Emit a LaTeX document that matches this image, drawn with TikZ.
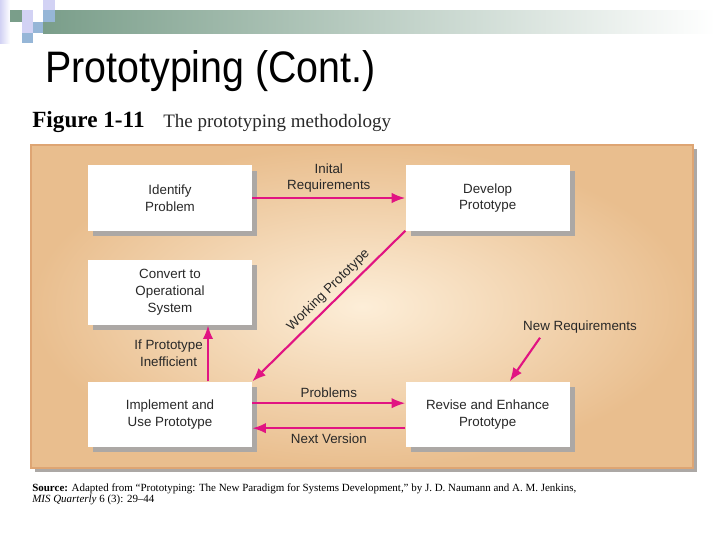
\documentclass[tikz,border=0pt]{standalone}
\usepackage{graphicx}
\usepackage{fontspec}
\setmainfont{Liberation Serif}
\setsansfont{Liberation Sans}
\usetikzlibrary{arrows.meta,positioning,calc,shadows}

\definecolor{flowpink}{RGB}{225,20,130}
\definecolor{panelout}{RGB}{233,190,142}
\definecolor{panelin}{RGB}{253,238,216}
\definecolor{paneledge}{RGB}{222,165,115}
\definecolor{boxshade}{RGB}{172,168,165}
\definecolor{barcol}{RGB}{122,158,138}
\definecolor{tilelav}{RGB}{210,210,244}
\definecolor{tileblue}{RGB}{150,182,215}
\definecolor{textgray}{RGB}{40,40,40}

\begin{document}
\begin{tikzpicture}[x=0.025cm, y=-0.025cm,
    every node/.style={font=\sffamily\fontsize{9.5}{12}\selectfont, text=textgray},
    stepbox/.style={fill=white, minimum width=4.1cm, minimum height=1.625cm, align=center, inner sep=2pt,
      drop shadow={fill=boxshade, opacity=1, shadow xshift=3.6pt, shadow yshift=-3.6pt}},
    flowlabel/.style={align=center, inner sep=3pt},
    flow/.style={draw=flowpink, line width=1.5pt, -{Latex[length=3.4mm,width=2.6mm]}}]
    \useasboundingbox (0,0) rectangle (720,540);
    \fill[white] (0,0) rectangle (720,540);

    % slide header
    \shade[left color=barcol, right color=white] (43,10) rectangle (715,33);
    \shade[left color=tilelav, right color=white] (0,0) rectangle (10,43);
    \fill[barcol] (10,10) rectangle (22,22);
    \fill[tilelav] (22,10) rectangle (33,22);
    \fill[tilelav] (43,0) rectangle (55,10);
    \fill[tileblue] (43,10) rectangle (55,22);
    \fill[tilelav] (22,22) rectangle (33,33);
    \fill[tileblue] (33,22) rectangle (43,33);
    \fill[tileblue] (22,33) rectangle (33,43);
    \node[anchor=base west, inner sep=0, text=black, font=\sffamily\fontsize{28}{30}\selectfont] (title) at (45,82) {\scalebox{1}[1.12]{Prototyping (Cont.)}};

    % figure caption
    \node[anchor=base west, inner sep=0, text=black, font=\rmfamily\bfseries\fontsize{16.5}{18}\selectfont] (fignum) at (32,127) {Figure 1-11};
    \node[anchor=base west, inner sep=0, font=\rmfamily\fontsize{13.5}{15}\selectfont] (figcap) at (163,127) {The prototyping methodology};

    % background panel
    \fill[boxshade] (35,149) rectangle (697,472);
    \shadedraw[inner color=panelin, outer color=panelout, draw=paneledge, line width=1pt] (31,145) rectangle (693,468);

    % steps
    \node[stepbox] (ident) at (170,198) {Identify\\Problem};
    \node[stepbox, right=3.825cm of ident] (devel) {Develop\\Prototype};
    \node[stepbox, below=0.725cm of ident] (conv) {Convert to\\Operational\\System};
    \node[stepbox, below=1.4cm of conv] (impl) {Implement and\\Use Prototype};
    \node[stepbox, right=3.825cm of impl] (revise) {Revise and Enhance\\Prototype};

    % flows
    \draw[flow] (ident) -- node[flowlabel, above] {Inital\\Requirements} (devel);
    \draw[flow] (devel.south west) -- node[flowlabel, sloped, above, pos=0.45] {Working Prototype} (impl.north east);
    \draw[flow] ($(impl.north)+(38,0)$) -- node[flowlabel, left] {If Prototype\\Inefficient} ($(conv.south)+(38,0)$);
    \draw[flow] ($(impl.east)+(0,-11)$) -- node[flowlabel, above] {Problems} ($(revise.west)+(0,-11)$);
    \draw[flow] ($(revise.west)+(0,14)$) -- node[flowlabel, below] {Next Version} ($(impl.east)+(0,14)$);
    \node[flowlabel] (newreq) at (580,327) {New Requirements};
    \draw[flow] ($(newreq.south)+(-40,0)$) -- ($(revise.north)+(22,0)$);

    % source
    \node[anchor=base west, inner sep=0, text=black, font=\rmfamily\fontsize{7.8}{8}\selectfont] (source) at (32,491) {\textbf{Source:} Adapted from “Prototyping: The New Paradigm for Systems Development,” by J. D. Naumann and A. M. Jenkins,};
    \node[anchor=base west, inner sep=0, text=black, font=\rmfamily\fontsize{7.8}{8}\selectfont] (sourceb) at (32,502) {\textit{MIS Quarterly} 6 (3): 29--44};
\end{tikzpicture}
\end{document}
